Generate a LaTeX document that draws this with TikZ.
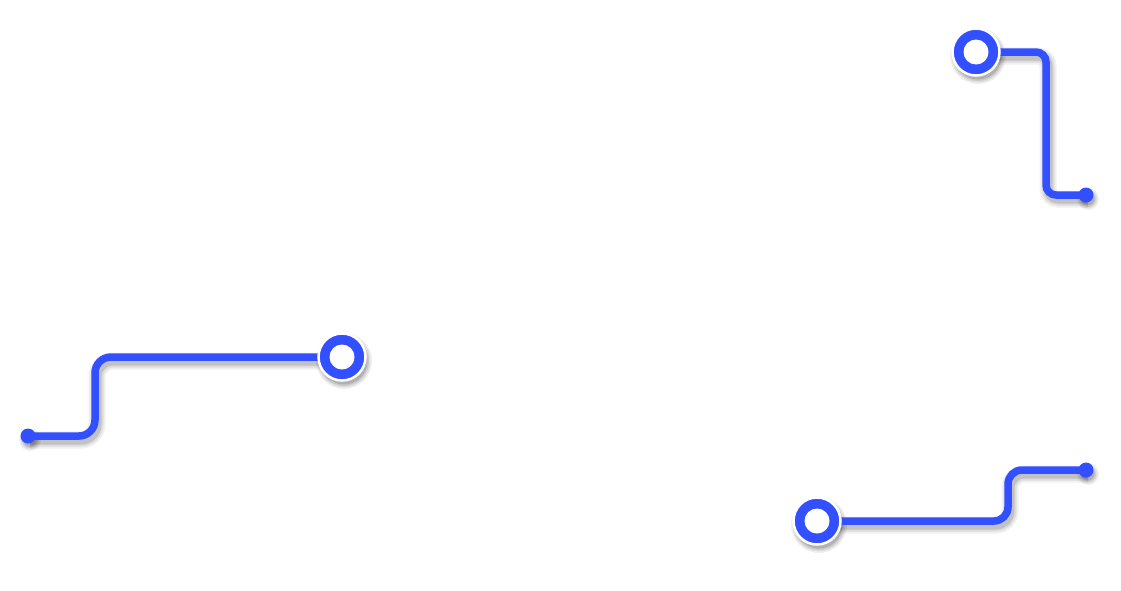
\documentclass[tikz,border=0pt]{standalone}
\definecolor{wireblue}{RGB}{50,80,255}
\pgfdeclarelayer{bottom}
\pgfdeclarelayer{shade}
\pgfdeclarelayer{wires}
\pgfsetlayers{bottom,shade,wires,main}
\newcommand\softshade[2]{%
  \foreach \dr/\op in {4/0.06,2.5/0.07,1/0.09,-0.5/0.12}{%
    \fill[black, opacity=\op] ($(#1)+(2,4)$) circle ({#2+\dr});}}
\usetikzlibrary{calc}
\tikzset{
  wire/.style={draw=wireblue, line width=7.5pt, rounded corners=#1,
    preaction={draw=black, opacity=0.06, line width=17pt, transform canvas={shift={(2pt,-4pt)}}},
    preaction={draw=black, opacity=0.08, line width=13pt, transform canvas={shift={(2pt,-4pt)}}},
    preaction={draw=black, opacity=0.12, line width=9pt, transform canvas={shift={(2pt,-4pt)}}}},
  ring/.style={circle, minimum size=47pt, inner sep=0pt, fill=wireblue, draw=white, line width=2.5pt,
    path picture={\fill[white] (path picture bounding box.center) circle (12.5pt);}},
  enddot/.style={circle, minimum size=15pt, inner sep=0pt, fill=wireblue}
}
\begin{document}
\begin{tikzpicture}[x=1pt, y=-1pt]
\begin{pgfonlayer}{bottom}
\fill[white] (0,0) rectangle (1121,590);
\end{pgfonlayer}
\useasboundingbox (0,0) rectangle (1121,590);
% top right
\coordinate (k1) at (1046,0);
\node[ring] (c1) at (976,52) {};
\node[enddot] (d1) at (1086,195) {};
% left
\coordinate (k2) at (95,0);
\node[ring] (c2) at (342,357) {};
\node[enddot] (d2) at (28,436) {};
% bottom right
\coordinate (k3) at (1008,0);
\node[ring] (c3) at (817,521) {};
\node[enddot] (d3) at (1086,470) {};
% shadows of the circles
\begin{pgfonlayer}{shade}
\softshade{c1}{24}
\softshade{c2}{24}
\softshade{c3}{24}
\softshade{d1}{7}
\softshade{d2}{7}
\softshade{d3}{7}
\end{pgfonlayer}
% wires
\begin{pgfonlayer}{wires}
\draw[wire=10pt] (c1.center) -- (c1 -| k1) -- (k1 |- d1) -- (d1.center);
\draw[wire=16pt] (d2.center) -- (k2 |- d2) -- (k2 |- c2) -- (c2.center);
\draw[wire=14pt] (c3.center) -- (c3 -| k3) -- (k3 |- d3) -- (d3.center);
\end{pgfonlayer}
\end{tikzpicture}
\end{document}
